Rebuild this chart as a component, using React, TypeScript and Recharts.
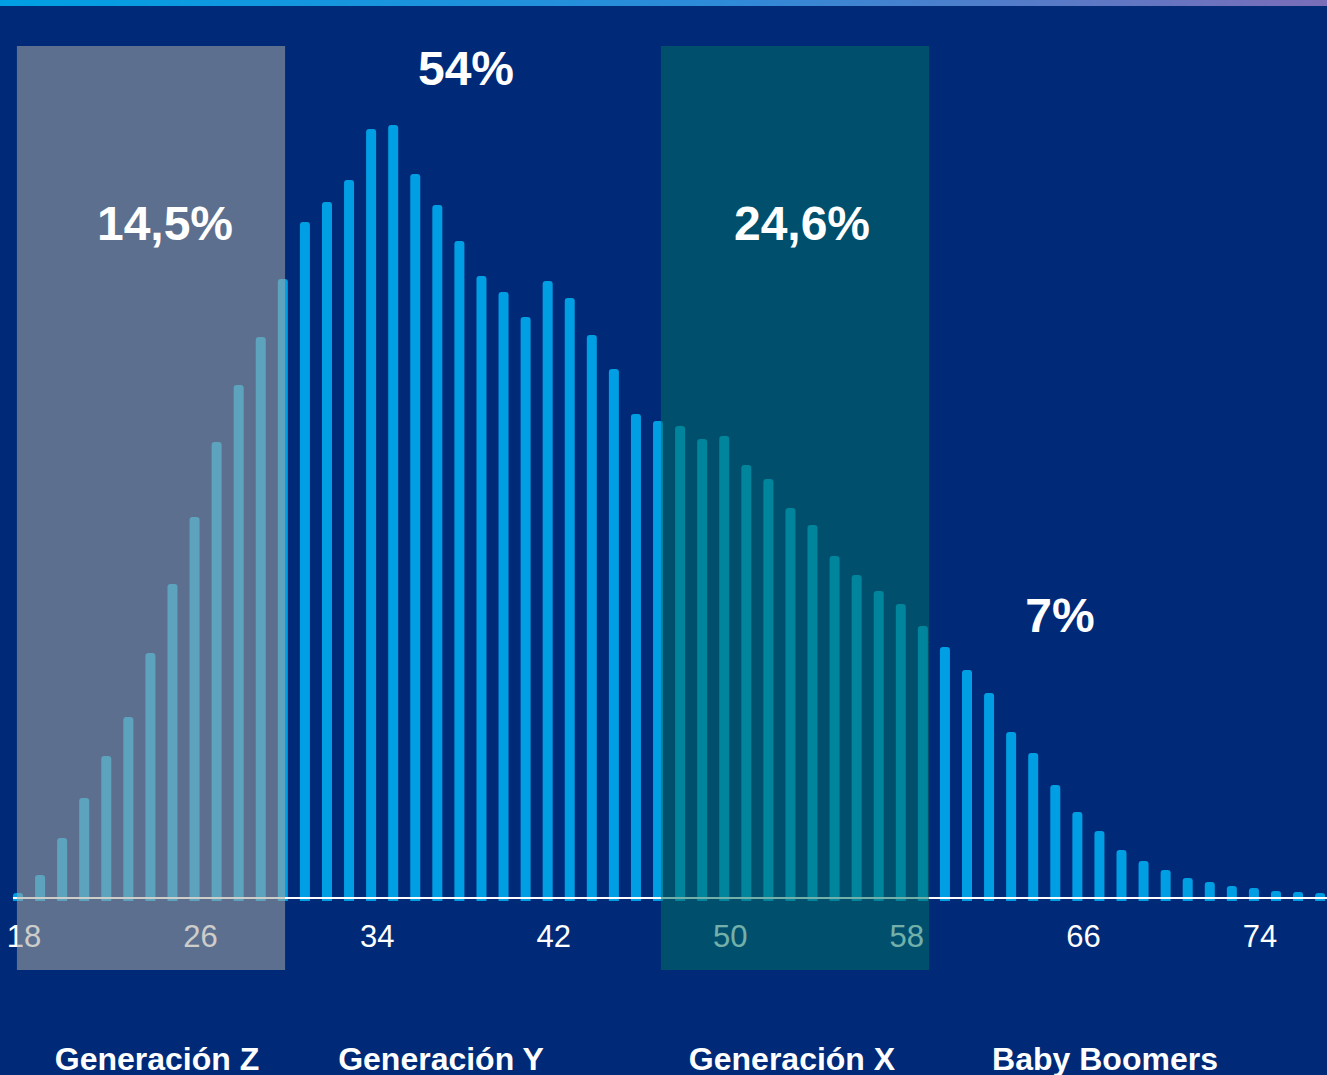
import { Bar, BarChart, ReferenceArea, ReferenceLine, XAxis, YAxis } from 'recharts'

// Distribución por edad (altura relativa de cada barra)
const edades = [
  18, 19, 20, 21, 22, 23, 24, 25, 26, 27, 28, 29, 30, 31, 32, 33, 34, 35, 36, 37,
  38, 39, 40, 41, 42, 43, 44, 45, 46, 47, 48, 49, 50, 51, 52, 53, 54, 55, 56, 57,
  58, 59, 60, 61, 62, 63, 64, 65, 66, 67, 68, 69, 70, 71, 72, 73, 74, 75, 76, 77,
]
const valores = [
  0.8, 2.6, 6.3, 10.3, 14.5, 18.4, 24.8, 31.7, 38.4, 45.9, 51.6, 56.4, 62.2, 67.9, 69.9, 72.1, 77.2, 77.6, 72.7, 69.6,
  66.0, 62.5, 60.9, 58.4, 62.0, 60.3, 56.6, 53.2, 48.7, 48.0, 47.5, 46.2, 46.5, 43.6, 42.2, 39.3, 37.6, 34.5, 32.6, 31.0,
  29.7, 27.5, 25.4, 23.1, 20.8, 16.9, 14.8, 11.6, 8.9, 7.0, 5.1, 4.0, 3.1, 2.3, 1.9, 1.5, 1.3, 1.0, 0.9, 0.8,
]
const ticksEdad = [18, 26, 34, 42, 50, 58, 66, 74]

const generaciones = ['Generación Z', 'Generación Y', 'Generación X', 'Baby Boomers']
const porcentajes = ['14,5%', '54%', '24,6%', '7%']

// tramos sombreados (en años)
const tramoZ = [17.95, 30.1]
const tramoX = [47.13, 59.28]

const data = edades.map((edad, i) => ({ edad, valor: valores[i] }))

const BG = '#002a78'
const AZUL = '#009fe3'
const FONT = '"Liberation Sans", Arial, sans-serif'

// posiciones de los textos superpuestos
const posPorcentajes = [
  { x: 165, y: 240 },
  { x: 466, y: 85 },
  { x: 802, y: 240 },
  { x: 1060, y: 632 },
]
const posGeneraciones = [157, 441, 792, 1105]

function EdadTick({ x, y, payload }: { x: number; y: number; payload: { value: number } }) {
  return (
    <text x={x + 6} y={y + 46} textAnchor="middle" fill="#ffffff" fontSize={31} fontFamily={FONT}>
      {payload.value}
    </text>
  )
}

export default function App() {
  return (
    <div
      style={{
        position: 'absolute',
        left: 0,
        top: 0,
        width: 1327,
        height: 1075,
        background: BG,
        overflow: 'hidden',
      }}
    >
      <div
        style={{
          position: 'absolute',
          left: 0,
          top: 0,
          width: 1327,
          height: 6,
          background: 'linear-gradient(90deg, #009fe3 0%, #2f8ad8 55%, #7b6db8 100%)',
        }}
      />
      <BarChart
        width={1327}
        height={1075}
        data={data}
        margin={{ top: 46, right: 0, left: 7, bottom: 144 }}
      >
        <XAxis
          dataKey="edad"
          type="number"
          domain={[17.5, 77.31]}
          ticks={ticksEdad}
          interval={0}
          height={30}
          axisLine={false}
          tickLine={false}
          tickSize={0}
          tickMargin={0}
          tick={EdadTick}
        />
        <YAxis hide domain={[0, 85.5]} />
        <Bar
          dataKey="valor"
          fill={AZUL}
          barSize={10}
          radius={[3, 3, 0, 0]}
          isAnimationActive={false}
        />
        <ReferenceLine
          segment={[
            { x: 17.77, y: 0.3 },
            { x: 77.31, y: 0.3 },
          ]}
          stroke="#ffffff"
          strokeWidth={2}
          ifOverflow="visible"
        />
        <ReferenceArea
          x1={tramoZ[0]}
          x2={tramoZ[1]}
          y1={-6.9}
          y2={85.5}
          fill="rgb(166,166,160)"
          fillOpacity={0.56}
          stroke="none"
          ifOverflow="visible"
          zIndex={2500}
        />
        <ReferenceArea
          x1={tramoX[0]}
          x2={tramoX[1]}
          y1={-6.9}
          y2={85.5}
          fill="rgb(0,112,100)"
          fillOpacity={0.55}
          stroke="none"
          ifOverflow="visible"
          zIndex={2500}
        />
      </BarChart>
      <svg
        width={1327}
        height={1075}
        style={{ position: 'absolute', left: 0, top: 0, pointerEvents: 'none' }}
      >
        {porcentajes.map((p, i) => (
          <text
            key={p}
            x={posPorcentajes[i].x}
            y={posPorcentajes[i].y}
            textAnchor="middle"
            fill="#ffffff"
            fontSize={48}
            fontWeight="bold"
            fontFamily={FONT}
          >
            {p}
          </text>
        ))}
        {generaciones.map((g, i) => (
          <text
            key={g}
            x={posGeneraciones[i]}
            y={1070}
            textAnchor="middle"
            fill="#ffffff"
            fontSize={32}
            fontWeight="bold"
            fontFamily={FONT}
          >
            {g}
          </text>
        ))}
      </svg>
    </div>
  )
}
